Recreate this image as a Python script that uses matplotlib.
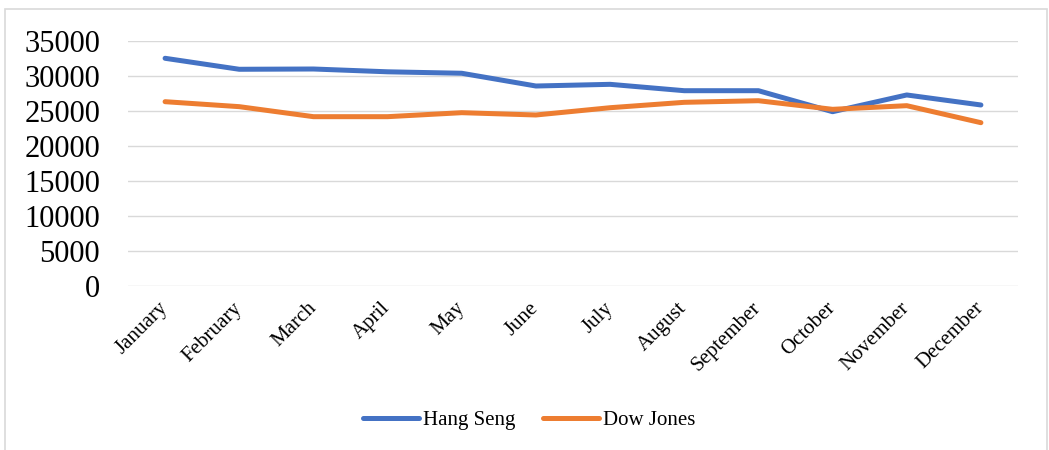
import matplotlib
matplotlib.use("Agg")
import matplotlib.pyplot as plt
from matplotlib.patches import Rectangle

months = ["January", "February", "March", "April", "May", "June", "July",
          "August", "September", "October", "November", "December"]
hang_seng = [32530, 30960, 31000, 30600, 30390, 28570, 28810, 27900, 27900, 24900, 27290, 25860]
dow_jones = [26330, 25620, 24190, 24190, 24760, 24430, 25470, 26240, 26470, 25240, 25760, 23330]
y_ticks = [0, 5000, 10000, 15000, 20000, 25000, 30000, 35000]

plt.rcParams['font.family'] = ['Liberation Serif', 'DejaVu Serif']

W, H = 1049, 450
fig = plt.figure(figsize=(W / 100, H / 100), dpi=100)
ax = fig.add_axes([128 / W, 1 - 286 / H, (1018 - 128) / W, (286 - 41) / H])

x = list(range(len(months)))
ax.plot(x, hang_seng, color="#4472C4", lw=3.6, solid_capstyle="round",
        solid_joinstyle="round", label="Hang Seng", zorder=3)
ax.plot(x, dow_jones, color="#ED7D31", lw=3.6, solid_capstyle="round",
        solid_joinstyle="round", label="Dow Jones", zorder=3)

ax.set_xlim(-0.5, len(months) - 0.5)
ax.set_ylim(0, 35000)
ax.set_yticks(y_ticks)
ax.set_yticklabels([str(v) for v in y_ticks], fontsize=22)
ax.set_xticks(x)
ax.set_xticklabels(months, fontsize=15, rotation=45, ha="right", va="center",
                   rotation_mode="anchor")
ax.tick_params(axis="y", length=0, pad=20)
ax.tick_params(axis="x", length=0, pad=14)
ax.grid(axis="y", color="#d9d9d9", lw=1.0, zorder=0)
for s in ax.spines.values():
    s.set_visible(False)

leg = fig.legend(loc="center", bbox_to_anchor=(529 / W, 1 - 420 / H), ncol=2,
                 frameon=False, fontsize=15, handlelength=2.7, handletextpad=0.2,
                 columnspacing=1.3)

fig.patches.append(Rectangle((4.5 / W, -0.1), (1047 - 4.5) / W, 1.1 - 9.5 / H,
                             transform=fig.transFigure, fill=False,
                             edgecolor="#d9d9d9", lw=1.2))

fig.savefig("out.png", dpi=100)
